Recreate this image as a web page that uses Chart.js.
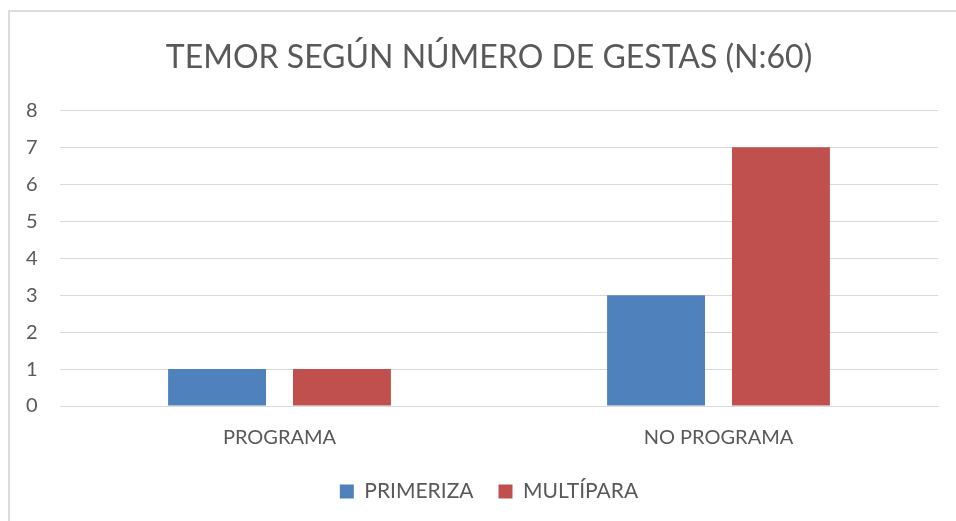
<!DOCTYPE html>
<html>
<head>
<meta charset="utf-8">
<script src="https://cdn.jsdelivr.net/npm/chart.js@4"></script>
<style>
  html, body { margin: 0; padding: 0; background: #fff; }
  #wrap { position: relative; width: 956px; height: 521px; overflow: hidden; }
  #frame { position: absolute; left: 8px; top: 10px; width: 1000px; height: 600px; border-top: 2px solid #dcdcdc; border-left: 2px solid #dcdcdc; }
  canvas { position: absolute; left: 0; top: 0; }
</style>
</head>
<body>
<div id="wrap">
  <div id="frame"></div>
  <canvas id="chart" width="956" height="521"></canvas>
</div>
<script>
const categories = ["PROGRAMA", "NO PROGRAMA"];
const seriesNames = ["PRIMERIZA", "MULTÍPARA"];
const primeriza = [1, 3];
const multipara = [1, 7];
const yTicks = [0, 1, 2, 3, 4, 5, 6, 7, 8];

const textColor = "#595959";
const fontFamily = "Lato, 'Open Sans', sans-serif";

new Chart(document.getElementById("chart"), {
  type: "bar",
  data: {
    labels: categories,
    datasets: [
      { label: seriesNames[0], data: primeriza, backgroundColor: "#4F81BD" },
      { label: seriesNames[1], data: multipara, backgroundColor: "#C0504D" }
    ]
  },
  options: {
    responsive: false,
    animation: false,
    categoryPercentage: 0.569,
    barPercentage: 0.784,
    // left padding pushes title/legend centre right, like the original frame
    layout: { padding: { left: 40, right: 18, top: 0, bottom: 9 } },
    plugins: {
      title: {
        display: true,
        text: "TEMOR SEGÚN NÚMERO DE GESTAS (N:60)",
        color: textColor,
        font: { family: fontFamily, size: 32, weight: "normal" },
        padding: { top: 38, bottom: 34 }
      },
      legend: {
        position: "bottom",
        labels: {
          color: textColor,
          font: { family: fontFamily, size: 21 },
          boxWidth: 14,
          boxHeight: 14,
          padding: 25
        }
      },
      tooltip: { enabled: false }
    },
    scales: {
      x: {
        grid: { display: false, drawTicks: false },
        border: { color: "#d9d9d9" },
        ticks: { color: textColor, font: { family: fontFamily, size: 20 }, padding: 20 },
        afterFit: s => { s.height = 50; }
      },
      y: {
        min: 0,
        max: 8,
        afterBuildTicks: s => { s.ticks = yTicks.map(v => ({ value: v })); },
        grid: { color: "#d9d9d9", drawTicks: false },
        border: { display: false },
        // mirrored so the labels are not clipped to the narrow axis box
        ticks: { color: textColor, font: { family: fontFamily, size: 20 }, mirror: true, padding: -34 },
        afterFit: s => { s.width = 20; }
      }
    }
  }
});
</script>
</body>
</html>
